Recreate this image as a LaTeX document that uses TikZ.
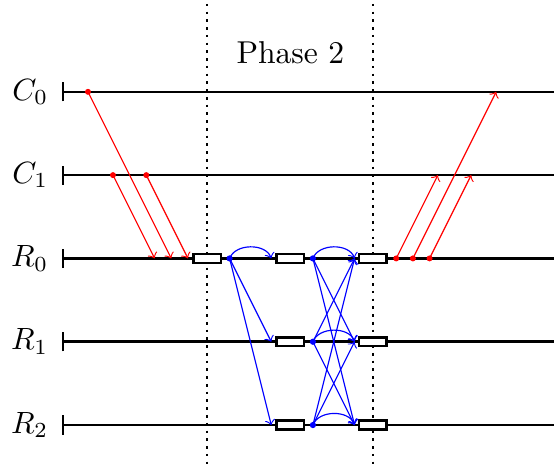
\documentclass[tikz,border=0pt]{standalone}
\begin{document}
\begin{tikzpicture}[
  timeline/.style={line width=0.85pt},
  phaseline/.style={line width=0.9pt, dash pattern=on 0.9pt off 1.75pt},
  buffer/.style={draw, line width=0.85pt, fill=white, minimum width=0.33cm,
                 minimum height=0.105cm, inner sep=0pt},
  reddot/.style={circle, fill=red, inner sep=0pt, minimum size=0.072cm},
  bluedot/.style={circle, fill=blue, inner sep=0pt, minimum size=0.075cm},
  redmsg/.style={red, line width=0.4pt, ->},
  bluemsg/.style={blue, line width=0.4pt, ->},
  selfmsg/.style={bluemsg, out=70, in=110},
  rowlabel/.style={anchor=east, inner sep=0pt, scale=1.05},
]
\useasboundingbox (-0.756,-0.492) rectangle (5.894,5.102);

% process time lines with start ticks and labels
\foreach \name/\lbl/\y in {C0/C_0/4, C1/C_1/3, R0/R_0/2, R1/R_1/1, R2/R_2/0} {
  \coordinate (\name s) at (0,\y);
  \coordinate (\name e) at (6,\y);
  \draw[timeline] (\name s) -- (\name e);
  \draw[timeline] (0,\y-0.115) -- (0,\y+0.115);
  \node[rowlabel] (\name l) at (-0.17,\y) {$\lbl$};
}

% phase boundaries
\coordinate (b1top) at (1.73,5.15);
\coordinate (b1bot) at (1.73,-0.55);
\coordinate (b2top) at (3.72,5.15);
\coordinate (b2bot) at (3.72,-0.55);
\draw[phaseline] (b1top) -- (b1bot);
\draw[phaseline] (b2top) -- (b2bot);
\node[scale=1.08] (title) at (2.73,4.47) {Phase 2};

% buffers
\node[buffer] (q0) at (1.73,2) {};
\foreach \r/\y in {0/2, 1/1, 2/0} {
  \node[buffer] (p\r) at (2.73,\y) {};
  \node[buffer] (s\r) at (3.72,\y) {};
}

% client requests
\node[reddot] (c0a) at (0.3,4) {};
\node[reddot] (c1a) at (0.6,3) {};
\node[reddot] (c1b) at (1.0,3) {};
\coordinate (ra) at (1.1,2);
\coordinate (rb) at (1.3,2);
\coordinate (rc) at (1.5,2);
\draw[redmsg] (c1a.center) -- (ra);
\draw[redmsg] (c0a.center) -- (rb);
\draw[redmsg] (c1b.center) -- (rc);

% replies to clients
\node[reddot] (ya) at (4.0,2) {};
\node[reddot] (yb) at (4.2,2) {};
\node[reddot] (yc) at (4.4,2) {};
\coordinate (ta) at (4.5,3);
\coordinate (tb) at (5.2,4);
\coordinate (tc) at (4.9,3);
\draw[redmsg] (ya.center) -- (ta);
\draw[redmsg] (yb.center) -- (tb);
\draw[redmsg] (yc.center) -- (tc);

% first round of replica messages
\node[bluedot] (d) at (2,2) {};
\coordinate (u0) at (2.5,2);
\coordinate (u1) at (2.5,1);
\coordinate (u2) at (2.5,0);
\draw[selfmsg] (d.center) to (u0);
\draw[bluemsg] (d.center) -- (u1);
\draw[bluemsg] (d.center) -- (u2);

% second round: all-to-all
\foreach \r/\y in {0/2, 1/1, 2/0} {
  \node[bluedot] (e\r) at (3,\y) {};
  \coordinate (v\r) at (3.5,\y);
}
\foreach \a in {0,1,2} {
  \foreach \b in {0,1,2} {
    \ifnum\a=\b
      \draw[selfmsg] (e\a.center) to (v\b);
    \else
      \draw[bluemsg] (e\a.center) -- (v\b);
    \fi
  }
}
\end{tikzpicture}
\end{document}
